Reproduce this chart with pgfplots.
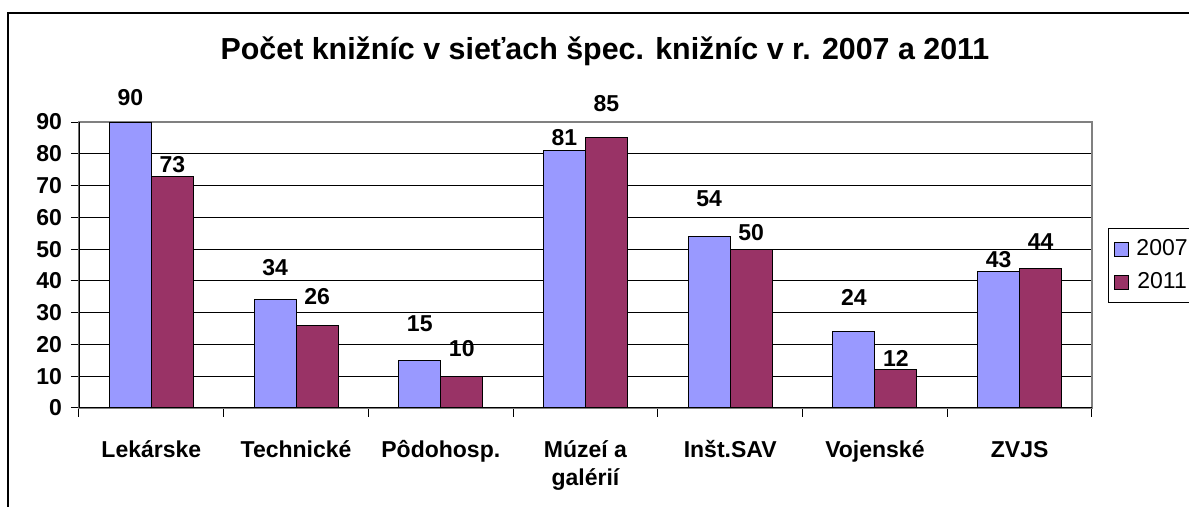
\documentclass[border=0pt]{standalone}
\usepackage{pgfplots}
\pgfplotsset{compat=1.18}
\usepackage{pgfplotstable}
\usepackage{fontspec}
\setmainfont{Liberation Sans}
\definecolor{c07}{HTML}{9999FF}
\definecolor{c11}{HTML}{993366}
\pgfplotstableread{
x y off
0 90 8
1 34 12
2 15 14
3 81 2
4 54 14.5
5 24 13
6 43 1.5
}\tA
\pgfplotstableread{
x y off
0 73 1.5
1 26 10
2 10 9.5
3 85 13
4 50 4
5 12 1.5
6 44 9
}\tB
\begin{document}
\begin{tikzpicture}
\useasboundingbox (0,0) rectangle (594.5pt,253.5pt);
\clip (0,0) rectangle (594.5pt,253.5pt);
\draw[line width=1pt] (4pt,-5pt) -- (4pt,247pt) -- (600pt,247pt);
\node[anchor=base,font=\fontsize{15.2}{17}\selectfont\bfseries,inner sep=0pt] at (302.5pt,223.5pt) {Počet knižníc v sieťach špec. knižníc v r. 2007 a 2011};
\begin{axis}[
  at={(39.5pt,49.5pt)}, anchor=south west,
  scale only axis, width=506.5pt, height=143pt,
  xmin=-0.5, xmax=6.5, ymin=0, ymax=90,
  ybar=0pt, bar width=21pt,
  ytick={0,10,...,90},
  xtick={0,...,6},
  xticklabels={Lekárske,Technické,Pôdohosp.,{\begin{tabular}[t]{@{}c@{}}Múzeí a\\galérií\end{tabular}},Inšt.SAV,Vojenské,ZVJS},
  minor xtick={-0.5,0.5,...,6.5},
  xtick pos=bottom, ytick pos=left,
  tick align=outside,
  major x tick style={draw=none},
  minor tick length=4.5pt,
  major tick length=4pt,
  tick style={black, line width=0.5pt},
  ymajorgrids, grid style={black, line width=0.5pt},
  axis line style={gray, line width=0.7pt},
  /pgf/number format/assume math mode=true,
  ticklabel style={font=\fontsize{11.5}{14}\selectfont\bfseries},
  xticklabel style={anchor=base, yshift=-21pt},
  yticklabel style={xshift=-1pt},
  nodes near coords,
  point meta=explicit,
  visualization depends on={\thisrow{off} \as \off},
  every node near coord/.append style={anchor=south, inner sep=0pt, yshift=\off pt, font=\fontsize{11.5}{13}\selectfont\bfseries},
  legend style={at={(1.0158,0.629)}, anchor=north west, draw=black, line width=0.5pt, font=\fontsize{11.5}{13}\selectfont, inner xsep=3pt, inner ysep=3.5pt, row sep=3pt},
  legend image code/.code={\draw[#1,draw=black,line width=0.5pt] (0.5pt,-3.5pt) rectangle (7.5pt,3.5pt); \path (9pt,0pt);},
]
\addplot[fill=c07, draw=black, line width=0.5pt] table[x=x, y=y, meta=y] {\tA};
\addplot[fill=c11, draw=black, line width=0.5pt] table[x=x, y=y, meta=y] {\tB};
\legend{2007,2011}
\draw[black, line width=0.7pt] (axis cs:-0.5,90) -- (axis cs:-0.5,0) -- (axis cs:6.5,0);
\end{axis}
\end{tikzpicture}
\end{document}
